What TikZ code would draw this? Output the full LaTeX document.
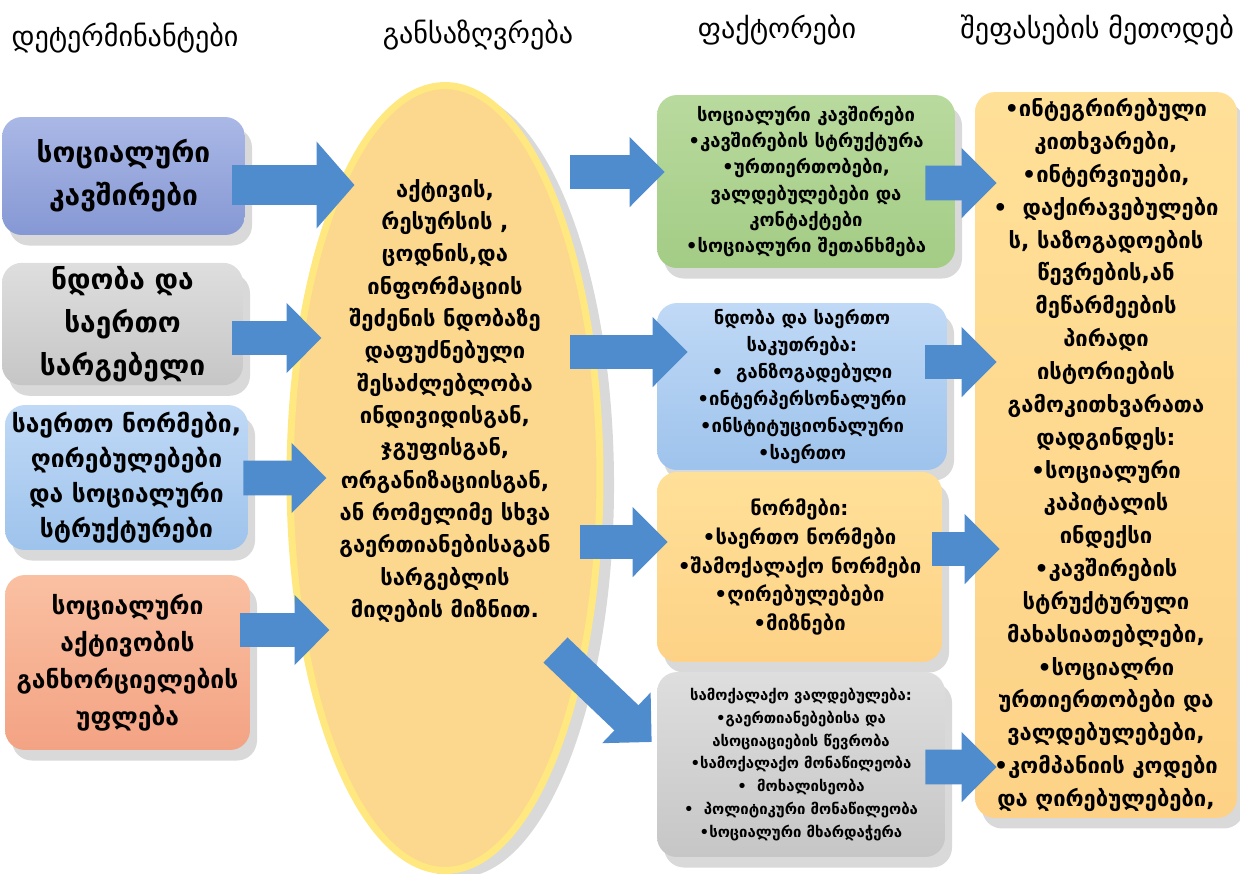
\documentclass[tikz,border=0pt]{standalone}
\usepackage{fontspec}
\setmainfont{DejaVu Sans}
\usetikzlibrary{positioning,calc,shapes.geometric,arrows.meta,shadows}
\definecolor{arrowblue}{RGB}{79,140,205}
\definecolor{socA}{RGB}{170,184,230}
\definecolor{socB}{RGB}{134,152,212}
\definecolor{grayA}{RGB}{222,222,222}
\definecolor{grayB}{RGB}{198,198,198}
\definecolor{skyA}{RGB}{192,217,246}
\definecolor{skyB}{RGB}{158,195,236}
\definecolor{salmA}{RGB}{250,192,162}
\definecolor{salmB}{RGB}{243,163,132}
\definecolor{eggIn}{RGB}{252,215,142}
\definecolor{eggOut}{RGB}{255,232,128}
\definecolor{leafA}{RGB}{185,218,158}
\definecolor{leafB}{RGB}{163,204,133}
\definecolor{paleA}{RGB}{255,224,152}
\definecolor{paleB}{RGB}{253,210,134}
\tikzstyle{box} = [rectangle, rounded corners=0.4cm, align=center, inner sep=2pt, drop shadow={shadow xshift=4pt,shadow yshift=-6pt,opacity=0.3}]
\tikzstyle{blk} = [line width=19.8pt, draw=arrowblue, -{Triangle[length=0.7cm,width=1.36cm]}]
\tikzstyle{blkbig} = [line width=22.6pt, draw=arrowblue, -{Triangle[length=0.76cm,width=1.7cm]}]
\tikzstyle{head} = [font=\fontsize{16}{19}\selectfont]

\begin{document}
\begin{tikzpicture}[x=0.02cm,y=-0.02cm]
\useasboundingbox (0,0) rectangle (1240,873);
% column titles
\node[head] (h1) at (125,38) {დეტერმინანტები};
\node[head] (h2) at (478,35) {განსაზღვრება};
\node[head] (h3) at (777,30) {ფაქტორები};
\node[head,anchor=east] (h4) at (1240,30) {შეფასების მეთოდებ};
% determinants
\node[box, top color=socA, bottom color=socB, minimum width=4.86cm, minimum height=2.36cm, font=\bfseries\fontsize{16}{24.4}\selectfont] (soc) at (123.5,176) {სოციალური\\კავშირები};
\node[box, top color=grayA, bottom color=grayB, minimum width=4.82cm, minimum height=2.44cm, font=\bfseries\fontsize{16}{24.4}\selectfont] (trust) at (122.5,324) {ნდობა და\\საერთო\\სარგებელი};
\node[box, top color=skyA, bottom color=skyB, minimum width=4.86cm, minimum height=2.9cm, font=\bfseries\fontsize{14}{20}\selectfont] (norm) at (126.5,477.5) {საერთო ნორმები,\\ღირებულებები\\და სოციალური\\სტრუქტურები};
\node[box, top color=salmA, bottom color=salmB, minimum width=4.9cm, minimum height=3.5cm, font=\bfseries\fontsize{14}{21}\selectfont] (act) at (127.5,662.5) {სოციალური\\აქტივობის\\განხორციელების\\უფლება};
% definition
\node[ellipse, fill=eggIn, draw=eggOut, line width=4pt, minimum width=6.2cm, minimum height=15.7cm, drop shadow={shadow xshift=8pt,shadow yshift=-4pt,opacity=0.3}] (ell) at (445,478) {};
\node[align=center, font=\bfseries\fontsize{12.5}{18.4}\selectfont] (elltxt) at (445,401) {აქტივის,\\რესურსის ,\\ცოდნის,და\\ინფორმაციის\\შეძენის ნდობაზე\\დაფუძნებული\\შესაძლებლობა\\ინდივიდისგან,\\ჯგუფისგან,\\ორგანიზაციისგან,\\ან რომელიმე სხვა\\გაერთიანებისაგან\\სარგებლის\\მიღების მიზნით.};
% factors
\node[box, top color=leafA, bottom color=leafB, minimum width=5.96cm, minimum height=3.46cm, font=\bfseries\fontsize{10.5}{15}\selectfont] (fconn) at (806,181.5) {სოციალური კავშირები\\•კავშირების სტრუქტურა\\•ურთიერთობები,\\ვალდებულებები და\\კონტაქტები\\•სოციალური შეთანხმება};
\node[box, top color=skyA, bottom color=skyB, minimum width=5.8cm, minimum height=3.34cm, font=\bfseries\fontsize{10.5}{15.3}\selectfont] (ftrust) at (802,386.5) {ნდობა და საერთო\\საკუთრება:\\•\ \ განზოგადებული\\•ინტერპერსონალური\\•ინსტიტუციონალური\\•საერთო};
\node[box, top color=paleA, bottom color=paleB, minimum width=5.7cm, minimum height=3.8cm, font=\bfseries\fontsize{11.5}{16.3}\selectfont] (fnorm) at (799.5,567) {ნორმები:\\•საერთო ნორმები\\•შამოქალაქო ნორმები\\•ღირებულებები\\•მიზნები};
\node[box, top color=grayA, bottom color=grayB, minimum width=5.76cm, minimum height=3.7cm, font=\bfseries\fontsize{8.5}{13}\selectfont] (fcivic) at (801,764.5) {სამოქალაქო ვალდებულება:\\•გაერთიანებებისა და\\ასოციაციების წევრობა\\•სამოქალაქო მონაწილეობა\\•\ \ მოხალისეობა\\•\ \ პოლიტიკური მონაწილეობა\\•სოციალური მხარდაჭერა};
% methods
\node[box, top color=paleA, bottom color=paleB, minimum width=5.24cm, minimum height=14.52cm, font=\bfseries\fontsize{12.5}{18.7}\selectfont] (meth) at (1106,455) {•ინტეგრირებული\\კითხვარები,\\•ინტერვიუები,\\•\ \ დაქირავებულები\\ს, საზოგადოების\\წევრების,ან\\მეწარმეების\\პირადი\\ისტორიების\\გამოკითხვარათა\\დადგინდეს:\\•სოციალური\\კაპიტალის\\ინდექსი\\•კავშირების\\სტრუქტურული\\მახასიათებლები,\\•სოციალრი\\ურთიერთობები და\\ვალდებულებები,\\•კომპანიის კოდები\\და ღირებულებები,};
% arrows into the definition
\draw[blkbig] ($(soc.east)+(-13,9)$) -- ($(ell.west)+(68,-293)$);
\draw[blk] ($(trust.east)+(-11,14)$) -- ($(ell.west)+(35,-140)$);
\draw[blk] ($(norm.east)+(-5,0.5)$) -- ($(ell.west)+(40,0)$);
\draw[blk] ($(act.east)+(-10,-32.5)$) -- ($(ell.west)+(43,152)$);
% arrows to the factors
\draw[blk] ($(ell.east)+(-33,-306)$) -- ($(fconn.west)+(8,-9.5)$);
\draw[blk] ($(ell.east)+(-33,-126)$) -- ($(ftrust.west)+(31,-34.5)$);
\draw[blk] ($(ell.east)+(-23,64)$) -- ($(fnorm.west)+(11,-25)$);
\draw[blk] ($(ell.east)+(-48,172)$) -- ($(fcivic.west)+(-5,-22.5)$);
% arrows to the methods
\draw[blk] ($(fconn.east)+(-30,1.5)$) -- ($(meth.west)+(22,-272)$);
\draw[blk] ($(ftrust.east)+(-22,-24.5)$) -- ($(meth.west)+(22,-93)$);
\draw[blk] ($(fnorm.east)+(-10,-18)$) -- ($(meth.west)+(25,94)$);
\draw[blk] ($(fcivic.east)+(-20,2.5)$) -- ($(meth.west)+(22,312)$);
\end{tikzpicture}
\end{document}
